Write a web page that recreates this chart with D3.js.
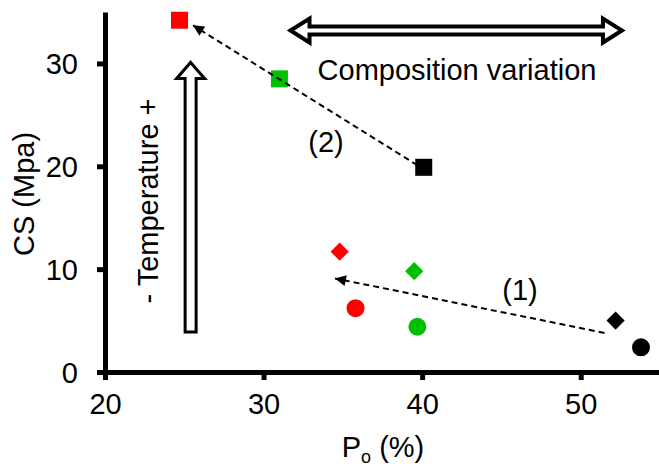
<!DOCTYPE html>
<html>
<head>
<meta charset="utf-8">
<script src="https://cdn.jsdelivr.net/npm/d3@7"></script>
<style>
  html, body { margin: 0; padding: 0; background: #fff; }
  svg { display: block; }
  text { font-family: "Liberation Sans", Arial, sans-serif; fill: #000; }
</style>
</head>
<body>
<svg id="chart" width="659" height="466"></svg>
<script>
// Compressive strength (CS) versus open porosity (Po)
const seriesColors = ["#ff0000", "#00c000", "#000000"];

const squareX = [24.7, 31.0, 40.1];
const squareY = [34.2, 28.5, 19.9];

const diamondX = [34.8, 39.5, 52.2];
const diamondY = [11.7, 9.8, 5.0];

const circleX = [35.8, 39.7, 53.8];
const circleY = [6.2, 4.4, 2.4];

const xTicks = [20, 30, 40, 50];
const yTicks = [0, 10, 20, 30];

// Dashed trend arrows: [x0, y0, x1, y1] in data units, head at the end
const trend1 = [51.5, 3.8, 34.5, 9.1];
const trend2 = [39.7, 20.1, 25.55, 33.7];

const svg = d3.select("#chart");
const x = d3.scaleLinear().domain([20, 55]).range([105, 660]);
const y = d3.scaleLinear().domain([0, 35]).range([372, 12]);

const FONT = 29;

// Axes
const xAxis = svg.append("g").attr("transform", `translate(0,${y(0)})`)
  .call(d3.axisBottom(x).tickValues(xTicks).tickSize(8).tickSizeOuter(0).tickPadding(14));
const yAxis = svg.append("g").attr("transform", `translate(${x(20)},0)`)
  .call(d3.axisLeft(y).tickValues(yTicks).tickSize(8).tickSizeOuter(0).tickPadding(19));

[xAxis, yAxis].forEach(g => {
  g.select(".domain").attr("stroke", "#000").attr("stroke-width", 5);
  g.selectAll(".tick line").attr("stroke", "#000").attr("stroke-width", 5);
  g.selectAll(".tick text").attr("font-size", FONT)
    .attr("font-family", "Liberation Sans, Arial, sans-serif").attr("fill", "#000");
});
yAxis.selectAll(".tick text").attr("dy", "0.36em");
xAxis.selectAll(".tick text").attr("dy", "0.69em");

// Axis titles
svg.append("text")
  .attr("transform", `translate(34,${(y(0) + y(35)) / 2 + 2}) rotate(-90)`)
  .attr("text-anchor", "middle").attr("font-size", FONT)
  .text("CS (Mpa)");

const xt = svg.append("text")
  .attr("x", 383).attr("y", 457)
  .attr("text-anchor", "middle").attr("font-size", FONT);
xt.append("tspan").text("P");
xt.append("tspan").attr("font-size", 18).attr("dy", 6).text("o");
xt.append("tspan").attr("dy", -6).text(" (%)");

// Arrowhead marker for the dashed trends
svg.append("defs").append("marker")
  .attr("id", "head")
  .attr("viewBox", "0 0 10 10")
  .attr("refX", 10).attr("refY", 5)
  .attr("markerWidth", 13).attr("markerHeight", 11)
  .attr("markerUnits", "userSpaceOnUse")
  .attr("orient", "auto")
  .append("path").attr("d", "M0,0 L10,5 L0,10 Z").attr("fill", "#000");

// Hollow block arrows (temperature and composition)
function blockArrowH(x0, x1, yc, shaft, head, headLen) {
  return `M${x0},${yc} L${x0 + headLen},${yc - head} L${x0 + headLen},${yc - shaft}
    L${x1 - headLen},${yc - shaft} L${x1 - headLen},${yc - head} L${x1},${yc}
    L${x1 - headLen},${yc + head} L${x1 - headLen},${yc + shaft}
    L${x0 + headLen},${yc + shaft} L${x0 + headLen},${yc + head} Z`;
}
function blockArrowUp(xc, yTop, yBot, shaft, head, headLen) {
  return `M${xc},${yTop} L${xc + head},${yTop + headLen} L${xc + shaft},${yTop + headLen}
    L${xc + shaft},${yBot} L${xc - shaft},${yBot} L${xc - shaft},${yTop + headLen}
    L${xc - head},${yTop + headLen} Z`;
}

svg.append("path")
  .attr("d", blockArrowH(x(31.7), x(52.6), y(33.2), 4, 12, 19))
  .attr("fill", "#fff").attr("stroke", "#000").attr("stroke-width", 4)
  .attr("stroke-linejoin", "miter");

svg.append("path")
  .attr("d", blockArrowUp(x(25.4), y(30.1), y(3.9), 5.5, 14, 16))
  .attr("fill", "#fff").attr("stroke", "#000").attr("stroke-width", 3)
  .attr("stroke-linejoin", "miter");

// Annotation text
svg.append("text").attr("x", 457).attr("y", 80)
  .attr("text-anchor", "middle").attr("font-size", FONT)
  .text("Composition variation");

svg.append("text")
  .attr("transform", `translate(158,201) rotate(-90)`)
  .attr("text-anchor", "middle").attr("font-size", FONT)
  .text("- Temperature +");

svg.append("text").attr("x", 326).attr("y", 152)
  .attr("text-anchor", "middle").attr("font-size", FONT).text("(2)");
svg.append("text").attr("x", 520).attr("y", 300)
  .attr("text-anchor", "middle").attr("font-size", FONT).text("(1)");

// Markers
const squares = squareX.map((v, i) => ({ x: v, y: squareY[i], c: seriesColors[i] }));
const diamonds = diamondX.map((v, i) => ({ x: v, y: diamondY[i], c: seriesColors[i] }));
const circles = circleX.map((v, i) => ({ x: v, y: circleY[i], c: seriesColors[i] }));

svg.append("g").selectAll("rect").data(squares).join("rect")
  .attr("x", d => x(d.x) - 8.5).attr("y", d => y(d.y) - 8.5)
  .attr("width", 17).attr("height", 17).attr("fill", d => d.c);

svg.append("g").selectAll("path").data(diamonds).join("path")
  .attr("d", d3.symbol().type(d3.symbolSquare).size(165))
  .attr("transform", d => `translate(${x(d.x)},${y(d.y)}) rotate(45)`)
  .attr("fill", d => d.c);

svg.append("g").selectAll("circle").data(circles).join("circle")
  .attr("cx", d => x(d.x)).attr("cy", d => y(d.y)).attr("r", 9)
  .attr("fill", d => d.c);

// Dashed trend arrows drawn over the markers
[trend1, trend2].forEach(t => {
  svg.append("line")
    .attr("x1", x(t[0])).attr("y1", y(t[1]))
    .attr("x2", x(t[2])).attr("y2", y(t[3]))
    .attr("stroke", "#000").attr("stroke-width", 2)
    .attr("stroke-dasharray", "6,4")
    .attr("marker-end", "url(#head)");
});
</script>
</body>
</html>
